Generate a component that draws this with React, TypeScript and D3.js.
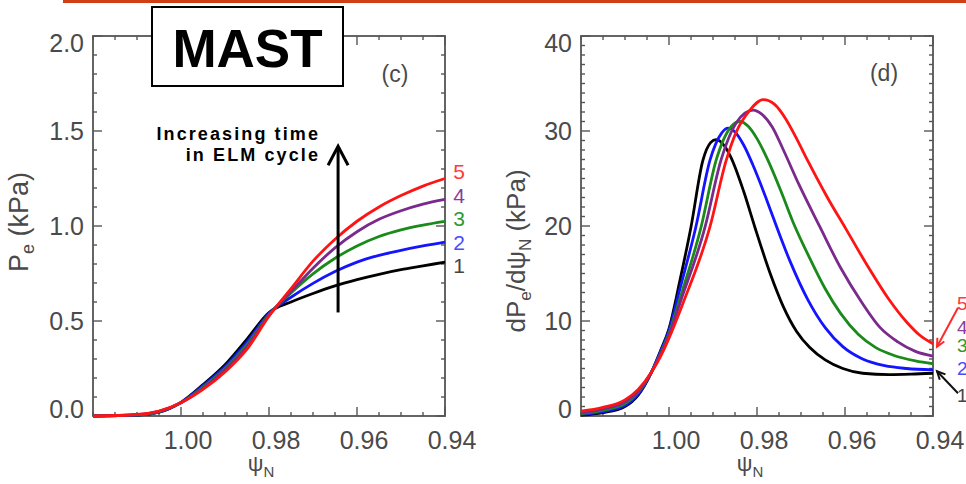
import React from 'react';
import * as d3 from 'd3';

// ---------- data ----------
const psiGrid = [1.02, 1.01, 1.005, 1.0, 0.995, 0.99, 0.985, 0.98, 0.975, 0.97, 0.965, 0.96, 0.955, 0.95, 0.945, 0.94];
const pe1 = [0, 0.005, 0.02, 0.072, 0.165, 0.27, 0.405, 0.545, 0.6, 0.645, 0.685, 0.718, 0.746, 0.77, 0.79, 0.81];
const pe2 = [0, 0.005, 0.02, 0.071, 0.16, 0.26, 0.39, 0.54, 0.625, 0.698, 0.76, 0.81, 0.845, 0.872, 0.895, 0.915];
const pe3 = [0, 0.006, 0.022, 0.07, 0.152, 0.25, 0.375, 0.535, 0.648, 0.748, 0.83, 0.895, 0.945, 0.98, 1.005, 1.025];
const pe4 = [0, 0.007, 0.024, 0.07, 0.146, 0.242, 0.365, 0.53, 0.655, 0.778, 0.885, 0.97, 1.035, 1.08, 1.115, 1.14];
const pe5 = [0, 0.008, 0.026, 0.07, 0.14, 0.232, 0.352, 0.525, 0.67, 0.815, 0.93, 1.025, 1.1, 1.16, 1.21, 1.25];

const dpe1: [number, number][] = [[1.02, 0.1], [1.015, 0.35], [1.01, 1.0], [1.007, 2.2], [1.004, 4.6], [1.002, 6.8], [1.0, 9.2], [0.9975, 14.3], [0.995, 19.9], [0.9923, 26.9], [0.9905, 28.8], [0.9893, 29.1], [0.9875, 28.5], [0.986, 27.3], [0.983, 23.6], [0.9805, 19.9], [0.977, 15.0], [0.9741, 11.6], [0.971, 8.9], [0.968, 7.2], [0.9645, 5.9], [0.9605, 5.0], [0.956, 4.5], [0.95, 4.35], [0.945, 4.4], [0.94, 4.5]];
const dpe2: [number, number][] = [[1.02, 0.15], [1.015, 0.45], [1.01, 1.1], [1.007, 2.3], [1.004, 4.6], [1.002, 6.7], [1.0, 9.0], [0.9975, 13.4], [0.9939, 19.9], [0.9907, 26.9], [0.988, 29.8], [0.9866, 30.3], [0.985, 29.9], [0.983, 28.5], [0.981, 26.5], [0.978, 23.0], [0.9764, 21.0], [0.9725, 16.3], [0.9684, 12.2], [0.9645, 9.3], [0.9605, 7.3], [0.956, 6.0], [0.951, 5.3], [0.946, 5.0], [0.94, 4.85]];
const dpe3: [number, number][] = [[1.02, 0.25], [1.015, 0.6], [1.01, 1.3], [1.007, 2.5], [1.004, 4.6], [1.002, 6.5], [1.0, 8.7], [0.9975, 12.4], [0.9927, 19.9], [0.9893, 26.9], [0.9858, 30.5], [0.9839, 31.0], [0.982, 30.5], [0.98, 29.2], [0.9775, 26.9], [0.9745, 23.6], [0.9718, 20.4], [0.968, 16.6], [0.9645, 13.4], [0.961, 10.8], [0.957, 8.6], [0.953, 7.2], [0.949, 6.4], [0.944, 5.8], [0.94, 5.5]];
const dpe4: [number, number][] = [[1.02, 0.35], [1.015, 0.75], [1.01, 1.5], [1.007, 2.6], [1.004, 4.6], [1.002, 6.4], [1.0, 8.5], [0.9975, 11.9], [0.9918, 19.9], [0.9882, 26.9], [0.9845, 31.0], [0.9809, 32.2], [0.979, 31.8], [0.9765, 30.4], [0.974, 28.0], [0.9705, 24.4], [0.9657, 19.9], [0.961, 15.6], [0.9561, 11.9], [0.952, 9.3], [0.948, 7.8], [0.944, 6.8], [0.94, 6.3]];
const dpe5: [number, number][] = [[1.02, 0.5], [1.015, 0.9], [1.01, 1.7], [1.007, 2.8], [1.004, 4.6], [1.002, 6.2], [1.0, 8.2], [0.9968, 11.9], [0.9907, 19.9], [0.987, 26.9], [0.9848, 29.8], [0.9816, 32.2], [0.9786, 33.3], [0.976, 32.8], [0.9735, 31.3], [0.971, 29.2], [0.9685, 26.9], [0.964, 23.0], [0.9598, 19.7], [0.955, 15.9], [0.9502, 12.4], [0.946, 9.9], [0.943, 8.5], [0.94, 7.6]];

const seriesLabels = ['1', '2', '3', '4', '5'];
const seriesColors = ['#000000', '#1414ff', '#1a8a1a', '#7a2a8c', '#ff1414'];
const labelColors = ['#444444', '#4a4aff', '#2e9a2e', '#8a3c9c', '#ff3a3a'];
const peLabelValues = [0.79, 0.915, 1.04, 1.16, 1.285];
const dpeLabelValues = [2.2, 5.0, 7.5, 9.4, 11.9];

const xTickValues = [1.0, 0.98, 0.96, 0.94];
const peTickValues = [0, 0.5, 1.0, 1.5, 2.0];
const dpeTickValues = [0, 10, 20, 30, 40];

const FONT = '"Liberation Sans", Arial, Helvetica, sans-serif';
const AXIS = '#555555';

type FrameProps = {
  x: d3.ScaleLinear<number, number>;
  y: d3.ScaleLinear<number, number>;
  xMinor: number[];
  yMinor: number[];
  yMajor: number[];
  yFmt: (v: number) => string;
};

function Frame({ x, y, xMinor, yMinor, yMajor, yFmt }: FrameProps) {
  const [x0, x1] = x.range();
  const [y0, y1] = y.range(); // y0 bottom, y1 top
  const maj = 9;
  const min = 4;
  const lines: JSX.Element[] = [];
  xMinor.forEach((v, i) => {
    const px = x(v);
    const isMaj = xTickValues.some((t) => Math.abs(t - v) < 1e-6);
    const L = isMaj ? maj : min;
    lines.push(<line key={'xb' + i} x1={px} x2={px} y1={y0} y2={y0 - L} />);
    lines.push(<line key={'xt' + i} x1={px} x2={px} y1={y1} y2={y1 + L} />);
  });
  yMinor.forEach((v, i) => {
    const py = y(v);
    const isMaj = yMajor.some((t) => Math.abs(t - v) < 1e-6);
    const L = isMaj ? maj : min;
    lines.push(<line key={'yl' + i} x1={x0} x2={x0 + L} y1={py} y2={py} />);
    lines.push(<line key={'yr' + i} x1={x1} x2={x1 - L} y1={py} y2={py} />);
  });
  return (
    <g>
      <g stroke={AXIS} strokeWidth={1.4}>{lines}</g>
      <rect x={x0} y={y1} width={x1 - x0} height={y0 - y1} fill="none" stroke={AXIS} strokeWidth={1.8} />
      <g fontFamily={FONT} fontSize={25} fill="#4a4a4a">
        {xTickValues.map((v) => (
          <text key={'xl' + v} x={x(v) + 7} y={y0 + 24} dy="0.35em" textAnchor="middle">{v.toFixed(2)}</text>
        ))}
        {yMajor.map((v) => {
          const py = Math.max(y1 + 7, Math.min(y0 - 7, y(v)));
          return (
            <text key={'yl' + v} x={x0 - 9} y={py} dy="0.36em" textAnchor="end">{yFmt(v)}</text>
          );
        })}
      </g>
    </g>
  );
}

function arrowHead(fx: number, fy: number, tx: number, ty: number, len: number, ang: number) {
  const a = Math.atan2(ty - fy, tx - fx);
  const p1 = [tx - len * Math.cos(a - ang), ty - len * Math.sin(a - ang)];
  const p2 = [tx - len * Math.cos(a + ang), ty - len * Math.sin(a + ang)];
  return `M${p1[0]},${p1[1]}L${tx},${ty}L${p2[0]},${p2[1]}`;
}

export default function App() {
  const W = 966;
  const H = 484;
  const top = 36;
  const bottom = 416;

  const xL = d3.scaleLinear().domain([1.02, 0.94]).range([93, 445]);
  const xR = d3.scaleLinear().domain([1.02, 0.94]).range([581, 933]);
  const yL = d3.scaleLinear().domain([0, 2]).range([bottom, top]);
  const yR = d3.scaleLinear().domain([0, 40]).range([bottom, top]);

  const xMinor = d3.range(0, 17).map((i) => +(1.02 - i * 0.005).toFixed(4));
  const yMinorL = d3.range(0, 21).map((i) => +(i * 0.1).toFixed(2));
  const yMinorR = d3.range(0, 41);

  const peSeries = [pe1, pe2, pe3, pe4, pe5];
  const dpeSeries = [dpe1, dpe2, dpe3, dpe4, dpe5];

  const lineL = d3
    .line<number>()
    .x((_, i) => xL(psiGrid[i]))
    .y((d) => yL(d))
    .curve(d3.curveMonotoneX);
  const lineR = d3
    .line<[number, number]>()
    .x((d) => xR(d[0]))
    .y((d) => yR(d[1]))
    .curve(d3.curveMonotoneX);

  // annotation arrow in panel (c)
  const arrowPsi = 0.9643;
  const arrowFrom = 0.545;
  const arrowTo = 1.42;
  const ax = xL(arrowPsi);
  const ay0 = yL(arrowFrom);
  const ay1 = yL(arrowTo);

  // label arrows in panel (d)
  const redEnd = dpe5[dpe5.length - 1];
  const blkEnd = dpe1[dpe1.length - 1];
  const rA = { fx: 958, fy: yR(11.4), tx: xR(redEnd[0]) + 4, ty: yR(redEnd[1]) + 3 };
  const bA = { fx: 958, fy: yR(2.4), tx: xR(blkEnd[0]) + 4, ty: yR(blkEnd[1]) - 2 };

  return (
    <svg
      width={W}
      height={H}
      viewBox={`0 0 ${W} ${H}`}
      style={{ position: 'absolute', left: 0, top: 0, background: '#ffffff' }}
    >
      <rect x={0} y={0} width={W} height={H} fill="#ffffff" />
      {/* top orange rule */}
      <rect x={63} y={0} width={W - 63} height={3} fill="#cf3e17" />

      {/* ---------- panel (c) ---------- */}
      <Frame x={xL} y={yL} xMinor={xMinor} yMinor={yMinorL} yMajor={peTickValues} yFmt={(v) => v.toFixed(1)} />
      <g fill="none" strokeWidth={2.8} strokeLinejoin="round">
        {peSeries.map((s, i) => (
          <path key={'pe' + i} d={lineL(s) || ''} stroke={seriesColors[i]} />
        ))}
      </g>
      <g fontFamily={FONT} fontSize={21} textAnchor="middle">
        {seriesLabels.map((l, i) => (
          <text key={'ll' + l} x={459} y={yL(peLabelValues[i])} dy="0.36em" fill={labelColors[i]}>{l}</text>
        ))}
      </g>
      <text x={395} y={74} dy="0.35em" textAnchor="middle" fontFamily={FONT} fontSize={23} fill="#4a4a4a">(c)</text>
      <text transform="translate(28,222) rotate(-90)" textAnchor="middle" fontFamily={FONT} fontSize={27} fill="#4a4a4a">
        P<tspan fontSize={18} dy={6}>e</tspan><tspan dy={-6}> (kPa)</tspan>
      </text>
      <text x={261} y={471} textAnchor="middle" fontFamily={FONT} fontSize={22} fill="#4a4a4a">
        ψ<tspan fontSize={15} dy={6}>N</tspan>
      </text>

      {/* arrow + annotation */}
      <g stroke="#000" strokeWidth={3} fill="none" strokeLinecap="butt">
        <line x1={ax} x2={ax} y1={ay0} y2={ay1 + 1} />
        <path d={`M${ax - 10},${ay1 + 19}L${ax},${ay1}L${ax + 10},${ay1 + 19}`} strokeLinejoin="miter" />
      </g>
      <g fontFamily={FONT} fontWeight="bold" fontSize={18} fill="#000" textAnchor="end" letterSpacing={2.1}>
        <text x={320} y={140}>Increasing time</text>
        <text x={320} y={161}>in ELM cycle</text>
      </g>

      {/* ---------- panel (d) ---------- */}
      <Frame x={xR} y={yR} xMinor={xMinor} yMinor={yMinorR} yMajor={dpeTickValues} yFmt={(v) => String(v)} />
      <g fill="none" strokeWidth={2.8} strokeLinejoin="round">
        {dpeSeries.map((s, i) => (
          <path key={'dpe' + i} d={lineR(s) || ''} stroke={seriesColors[i]} />
        ))}
      </g>
      <g fontFamily={FONT} fontSize={19} textAnchor="start">
        {seriesLabels.map((l, i) => (
          <text key={'rl' + l} x={957} y={yR(dpeLabelValues[i])} dy="0.36em" fill={labelColors[i]}>{l}</text>
        ))}
      </g>
      <g fill="none" strokeWidth={2}>
        <line x1={rA.fx} y1={rA.fy} x2={rA.tx} y2={rA.ty} stroke="#ff2a2a" />
        <path d={arrowHead(rA.fx, rA.fy, rA.tx, rA.ty, 9, 0.45)} stroke="#ff2a2a" />
        <line x1={bA.fx} y1={bA.fy} x2={bA.tx} y2={bA.ty} stroke="#111" />
        <path d={arrowHead(bA.fx, bA.fy, bA.tx, bA.ty, 9, 0.45)} stroke="#111" />
      </g>
      <text x={884} y={73} dy="0.35em" textAnchor="middle" fontFamily={FONT} fontSize={23} fill="#4a4a4a">(d)</text>
      <text transform="translate(525,251) rotate(-90)" textAnchor="middle" fontFamily={FONT} fontSize={26} fill="#4a4a4a">
        dP<tspan fontSize={17} dy={6}>e</tspan><tspan dy={-6}>/dψ</tspan><tspan fontSize={17} dy={6}>N</tspan><tspan dy={-6}> (kPa)</tspan>
      </text>
      <text x={750} y={471} textAnchor="middle" fontFamily={FONT} fontSize={22} fill="#4a4a4a">
        ψ<tspan fontSize={15} dy={6}>N</tspan>
      </text>

      {/* MAST box */}
      <rect x={152} y={7} width={191} height={79} fill="#ffffff" stroke="#000" strokeWidth={2} />
      <text x={247.5} y={67} textAnchor="middle" fontFamily={FONT} fontWeight="bold" fontSize={53} fill="#000">MAST</text>
    </svg>
  );
}
